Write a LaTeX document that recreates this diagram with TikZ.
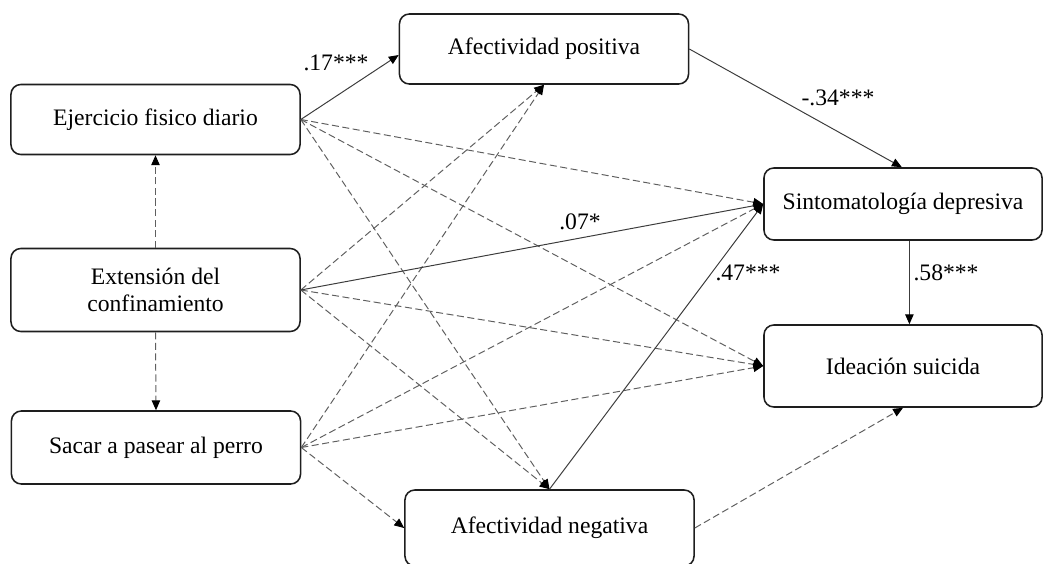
\documentclass[tikz,border=0pt]{standalone}
\usepackage{fontspec}
\setmainfont{Liberation Serif}
\usetikzlibrary{arrows.meta, positioning}
\definecolor{BoxBlack}{RGB}{30,30,30}
\definecolor{PathGrey}{RGB}{60,60,60}
\definecolor{DashGrey}{RGB}{95,95,95}

\begin{document}
\begin{tikzpicture}[x=0.025cm, y=-0.025cm, >={Triangle[length=7pt,width=6pt,color=black]},
    font=\fontsize{16.8}{19.5}\selectfont,
    var/.style={draw=BoxBlack, line width=1.1pt, rounded corners=7pt, align=center,
      inner sep=0pt, minimum width=7.225cm},
    sig/.style={->, draw=PathGrey, line width=0.7pt},
    nsig/.style={->, draw=DashGrey, line width=0.7pt, dash pattern=on 5pt off 2.5pt},
    coef/.style={inner sep=1pt}]
    \useasboundingbox (0,0) rectangle (1043,564);
    % Predictors
    \node[var, minimum height=1.75cm] (ejer) at (155.5,119.5) {Ejercicio fisico diario};
    \node[var, minimum height=2.075cm] (ext) at (155.5,290) {Extensión del\\confinamiento};
    \node[var, minimum height=1.825cm] (sacar) at (156,447.5) {Sacar a pasear al perro};
    % Mediators
    \node[var, minimum height=1.75cm] (apos) at (544,49) {Afectividad positiva};
    \node[var, minimum height=1.9cm] (aneg) at (549.5,528) {Afectividad negativa};
    % Outcomes
    \node[var, minimum width=6.95cm, minimum height=1.8cm] (sint) at (903,204) {Sintomatología depresiva};
    \node[var, minimum width=6.95cm, minimum height=2.05cm] (idea) at (903,366) {Ideación suicida};
    % Covariate links
    \draw[nsig] (ext.north) -- (ejer.south);
    \draw[nsig] (ext.south) -- (sacar.north);
    % Paths from predictors
    \foreach \src in {ejer, ext, sacar}{
      \draw[nsig] (\src.east) -- (idea.west);
    }
    \draw[nsig] (ejer.east) -- (sint.west);
    \draw[nsig] (sacar.east) -- (sint.west);
    \draw[nsig] (ejer.east) -- (aneg.north);
    \draw[nsig] (ext.east) -- (aneg.north);
    \draw[nsig] (ext.east) -- (apos.south);
    \draw[nsig] (sacar.east) -- (apos.south);
    \draw[nsig] (sacar.east) -- (aneg.west);
    \draw[sig] (ejer.east) -- ([yshift=-0.15cm]apos.west);
    \draw[sig] (ext.east) -- (sint.west);
    % Paths from mediators
    \draw[sig] (apos.east) -- ([xshift=-0.03cm]sint.north);
    \draw[sig] (aneg.north) -- (sint.west);
    \draw[nsig] (aneg.east) -- (idea.south);
    \draw[sig] ([xshift=0.16cm]sint.south) -- ([xshift=0.16cm]idea.north);
    % Coefficients
    \node[coef] (c17) at (336,63) {.17***};
    \node[coef] (c34) at (838,98) {-.34***};
    \node[coef] (c07) at (580,222) {.07*};
    \node[coef] (c47) at (748,273) {.47***};
    \node[coef] (c58) at (946,273) {.58***};
\end{tikzpicture}
\end{document}
